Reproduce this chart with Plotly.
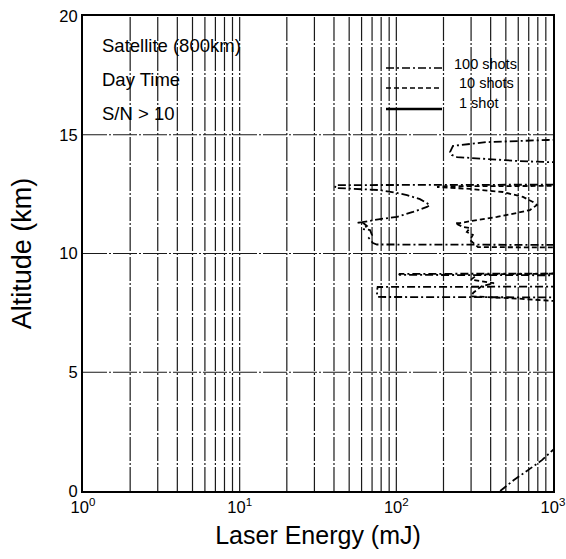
import math
import plotly.graph_objects as go

# Required laser energy (mJ) vs. altitude (km) for S/N > 10, daytime, 800 km orbit.
# Values beyond 1000 mJ lie outside the plotted range and are clipped by the axes.

# 100-shot average
energy_100 = [460, 560, 700, 850, 1000, 1300, 3000, 3000,
              1500, 76, 75, 76, 1500, 3000,
              1500, 105, 104, 1500, 3000, 3000,
              1500, 75.2, 70.9, 66.8, 69.9, 67.9, 61.2, 64.9, 60.3, 56.1,
              78.6, 100.9, 127.6, 156.8, 163.8, 141.5, 116.9, 100.9, 78.6, 58.6, 40.6,
              41, 1500, 3000, 3000,
              1500, 927, 615, 378, 244, 226, 220, 230, 378, 927, 1500, 3000]
alt_100 = [0.0, 0.45, 0.9, 1.3, 1.73, 2.2, 4.0, 8.0,
           8.15, 8.17, 8.38, 8.59, 8.61, 8.8,
           9.08, 9.1, 9.14, 9.16, 9.5, 10.1,
           10.36, 10.38, 10.44, 10.65, 10.78, 10.99, 11.03, 11.16, 11.33, 11.28,
           11.45, 11.54, 11.75, 11.96, 12.04, 12.29, 12.46, 12.55, 12.67, 12.72, 12.76,
           12.88, 12.9, 13.2, 13.6,
           13.85, 13.85, 13.89, 13.98, 14.06, 14.15, 14.27, 14.53, 14.69, 14.78, 14.8, 15.2]

# 10-shot average
energy_10 = [3000, 1500, 330, 300, 420, 350, 310, 300, 600, 1000, 1500, 3000,
             3000, 1500, 332, 308, 295, 308, 282, 295, 266, 237, 255, 327,
             439, 589, 712, 789, 745, 643, 479, 295, 182, 190, 1500, 3000]
alt_10 = [7.5, 9.16, 9.12, 8.9, 8.75, 8.62, 8.35, 8.2, 8.1, 8.02, 7.95, 7.8,
          9.8, 10.25, 10.27, 10.44, 10.57, 10.78, 10.91, 11.07, 11.12, 11.28, 11.28, 11.41,
          11.54, 11.71, 11.83, 12.04, 12.17, 12.38, 12.59, 12.72, 12.80, 12.83, 12.85, 13.1]

x_tickvals = [1, 10, 100, 1000]
x_ticktext = ["10<sup>0</sup>", "10<sup>1</sup>", "10<sup>2</sup>", "10<sup>3</sup>"]
y_tickvals = [0, 5, 10, 15, 20]
x_gridvals = [m * 10 ** k for k in range(3) for m in range(2, 10)] + [10, 100]
y_gridvals = [5, 10, 15]

labels = ["Satellite (800km)", "Day Time", "S/N > 10"]
legend_names = ["100 shots", "10 shots", "1 shot"]
legend_dashes = ["8px,3px,2px,3px", "5px,3px", "solid"]

FONT = "Liberation Sans, Arial, Helvetica, sans-serif"
W, H = 566, 559
L, R, T, B = 83, 13, 16, 68
PW, PH = W - L - R, H - T - B
GRID_DASH = "24px,2px,2px,2px"


def px(x):
    return (x - L) / PW


def py(y):
    return (H - B - y) / PH


fig = go.Figure()

# decade grid, drawn as plain lines under the data
for v in x_gridvals:
    xp = math.log10(v) / 3
    fig.add_shape(type="line", xref="paper", yref="paper", x0=xp, x1=xp, y0=0, y1=1,
                  layer="below", line=dict(color="#1a1a1a", width=1.2, dash=GRID_DASH))
for v in y_gridvals:
    fig.add_shape(type="line", xref="paper", yref="y", x0=0, x1=1, y0=v, y1=v,
                  layer="below", line=dict(color="#1a1a1a", width=1.2, dash=GRID_DASH))

fig.add_trace(go.Scatter(x=energy_100, y=alt_100, mode="lines",
                         line=dict(color="black", width=1.8, dash="8px,3px,2px,3px"),
                         showlegend=False))
fig.add_trace(go.Scatter(x=energy_10, y=alt_10, mode="lines",
                         line=dict(color="black", width=1.8, dash="5px,3px"),
                         showlegend=False))

# text block, upper left
for i, t in enumerate(labels):
    fig.add_annotation(x=px(100), y=py(45 + i * 34), xref="paper", yref="paper",
                       text=t, showarrow=False, xanchor="left", yanchor="middle",
                       font=dict(family=FONT, size=18.5, color="black"))

# key: line samples with their labels
key_line_y = [68, 88, 109]
key_text_x = [485, 486, 479]
key_text_y = [64, 83, 103]
for i, (name, dash) in enumerate(zip(legend_names, legend_dashes)):
    fig.add_shape(type="line", xref="paper", yref="paper",
                  x0=px(386), x1=px(442), y0=py(key_line_y[i]), y1=py(key_line_y[i]),
                  line=dict(color="black", width=2.4 if dash == "solid" else 1.6, dash=dash))
    fig.add_annotation(x=px(key_text_x[i]), y=py(key_text_y[i]), xref="paper", yref="paper",
                       text=name, showarrow=False, xanchor="center", yanchor="middle",
                       font=dict(family=FONT, size=14.5, color="black"))

fig.update_layout(
    width=W, height=H,
    margin=dict(l=L, r=R, t=T, b=B, autoexpand=False),
    paper_bgcolor="white", plot_bgcolor="white",
    font=dict(family=FONT, color="black"),
    showlegend=False,
)
fig.update_xaxes(
    type="log", range=[0, 3], automargin=False,
    tickvals=x_tickvals, ticktext=x_ticktext,
    tickfont=dict(size=16.5), ticks="", showgrid=False,
    showline=True, linecolor="black", linewidth=2, mirror=True,
    title=dict(text="Laser Energy (mJ)", font=dict(size=25), standoff=12),
    zeroline=False,
)
fig.update_yaxes(
    range=[0, 20], tickvals=y_tickvals, automargin=False,
    tickfont=dict(size=16.5), ticks="", showgrid=False,
    showline=True, linecolor="black", linewidth=2, mirror=True,
    title=dict(text="Altitude (km)", font=dict(size=27), standoff=20),
    zeroline=False,
)

fig.write_html("out.html")
